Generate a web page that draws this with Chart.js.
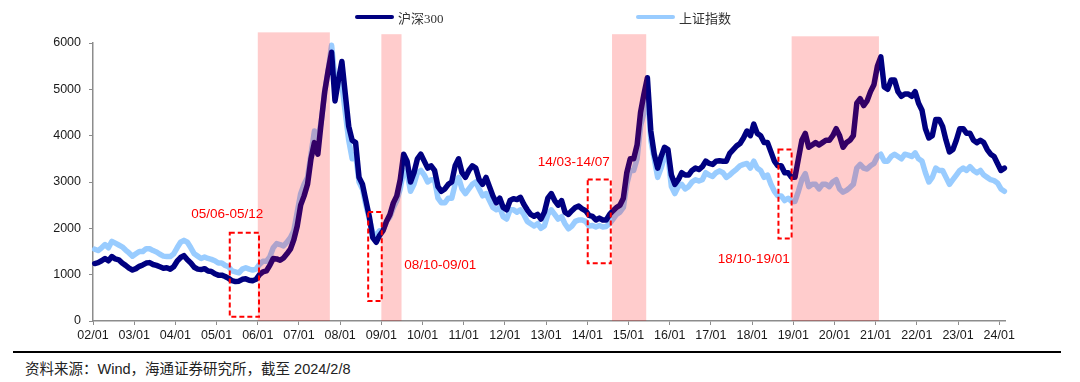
<!DOCTYPE html>
<html>
<head>
<meta charset="utf-8">
<script src="https://cdn.jsdelivr.net/npm/chart.js@4.4.0/dist/chart.umd.min.js"></script>
<style>
  html, body { margin: 0; padding: 0; background: #fff; }
  #wrap { position: relative; width: 1080px; height: 382px; overflow: hidden; }
  #chartBox { position: absolute; left: 0; top: 0; width: 1080px; height: 345px; }
  .legend { position: absolute; top: 8px; height: 18px; display: flex; align-items: center;
            font: 13px "Liberation Serif", "Noto Sans CJK SC", serif; color: #333; white-space: nowrap; }
  .legend i { display: inline-block; width: 39px; height: 4px; border-radius: 2px; margin-right: 4px; }
  #rule { position: absolute; left: 13px; width: 1048px; top: 351px; height: 2px; background: #000; }
  #source { position: absolute; left: 25px; top: 357px; font: 14.5px "Liberation Sans", "Noto Sans CJK SC", sans-serif; color: #222; white-space: nowrap; }
</style>
</head>
<body>
<div id="wrap">
  <div id="chartBox"><canvas id="indexChart" width="1080" height="345"></canvas></div>
  <div class="legend" style="left:355px"><i style="background:#000080"></i>沪深300</div>
  <div class="legend" style="left:636px"><i style="background:#99ccff"></i>上证指数</div>
  <div id="rule"></div>
  <div id="source">资料来源：Wind，海通证券研究所，截至 2024/2/8</div>
</div>
<script>
// monthly values, Jan 2002 .. Feb 2024 (one row per year)
const startYear = 2002;

const hs300 = [
  1240,1260,1300,1350,1300,1390,1340,1320,1250,1200,1140,1100, // 2002
  1130,1180,1210,1250,1260,1220,1200,1170,1140,1150,1120,1170, // 2003
  1290,1370,1410,1320,1250,1160,1120,1110,1130,1080,1070,1020, // 2004
  990,990,960,920,870,850,860,900,910,880,870,900,             // 2005
  1000,1060,1080,1200,1350,1340,1310,1360,1450,1550,1750,2050, // 2006
  2500,2700,2950,3500,3850,3600,4300,4950,5400,5800,4750,5200, // 2007
  5600,4900,4200,3900,3850,3100,2950,2600,2250,1800,1700,1850, // 2008
  1950,2150,2300,2550,2700,3050,3600,3450,3000,3200,3500,3600, // 2009
  3450,3300,3350,3250,2900,2800,2850,2950,3000,3350,3500,3200, // 2010
  3100,3250,3350,3300,3050,2950,3100,2900,2700,2550,2650,2450, // 2011
  2400,2600,2640,2620,2670,2520,2400,2300,2260,2300,2200,2350, // 2012
  2650,2750,2600,2500,2600,2350,2300,2380,2450,2480,2420,2380, // 2013
  2280,2260,2180,2220,2180,2180,2300,2380,2450,2500,2650,3200, // 2014
  3500,3500,3800,4500,4900,5250,4100,3600,3300,3550,3750,3700, // 2015
  3150,2950,3050,3200,3150,3150,3250,3300,3270,3330,3450,3400, // 2016
  3380,3450,3460,3450,3450,3620,3700,3780,3830,3950,4100,4000, // 2017
  4250,4050,4000,3850,3850,3650,3450,3350,3350,3200,3200,3100, // 2018
  3100,3500,3900,4050,3750,3800,3850,3800,3850,3900,3900,4000, // 2019
  4150,4000,3750,3850,3900,4000,4700,4800,4650,4750,4950,5100, // 2020
  5500,5700,5050,5000,5200,5200,4950,4850,4900,4900,4850,4950, // 2021
  4700,4550,4150,3950,4000,4350,4350,4200,3900,3650,3700,3900, // 2022
  4150,4150,4050,4050,3900,3850,3900,3850,3700,3600,3550,3400, // 2023
  3250,3300                                                    // 2024
];

const shIndex = [
  1550,1520,1580,1650,1580,1720,1680,1640,1600,1530,1470,1400, // 2002
  1450,1500,1500,1560,1560,1520,1490,1440,1400,1390,1390,1450, // 2003
  1580,1700,1740,1700,1580,1450,1400,1350,1380,1350,1330,1300, // 2004
  1250,1250,1200,1170,1080,1060,1040,1120,1150,1120,1100,1120, // 2005
  1220,1290,1290,1380,1580,1670,1650,1620,1700,1800,1950,2350, // 2006
  2750,2950,3100,3600,4100,3950,4300,4950,5400,5950,5200,5100, // 2007
  5100,4500,3900,3500,3600,3000,2850,2500,2200,1900,1850,1950, // 2008
  1950,2150,2250,2450,2600,2850,3250,3200,2800,2950,3200,3250, // 2009
  3150,3000,3050,3050,2650,2550,2550,2650,2650,2950,3100,2850, // 2010
  2750,2850,2950,3000,2850,2700,2750,2600,2450,2400,2450,2250, // 2011
  2200,2400,2400,2350,2400,2300,2150,2100,2050,2100,2000,2050, // 2012
  2300,2400,2300,2200,2250,2100,1990,2050,2150,2180,2180,2150, // 2013
  2050,2060,2030,2060,2030,2040,2100,2200,2300,2350,2450,2950, // 2014
  3250,3250,3500,4200,4500,5000,3900,3500,3100,3300,3550,3550, // 2015
  2900,2750,2900,2950,2850,2900,3000,3050,3020,3050,3200,3150, // 2016
  3120,3200,3240,3200,3100,3150,3220,3280,3350,3380,3400,3300, // 2017
  3450,3300,3250,3100,3150,2950,2800,2700,2700,2600,2650,2580, // 2018
  2580,2800,3050,3180,2900,2950,2950,2850,2950,2950,2900,3000, // 2019
  3050,2850,2780,2820,2880,2950,3300,3380,3300,3280,3350,3400, // 2020
  3550,3600,3450,3450,3550,3600,3550,3500,3600,3580,3550,3630, // 2021
  3500,3450,3200,3000,3100,3300,3250,3250,3100,2950,3050,3150, // 2022
  3250,3300,3250,3330,3250,3200,3250,3150,3100,3050,3030,2980, // 2023
  2850,2800                                                    // 2024
];

// x axis tick labels, one per January
const tickYears = [];
for (let y = 2002; y <= 2024; y++) tickYears.push(y);
const tickLabel = v => String(v % 100).padStart(2, '0') + '/01';

// shaded periods (decimal years) and dashed boxes with their labels
const shadedPeriods = [
  { from: 2006.0,  to: 2007.75, top: 6230 },
  { from: 2009.0,  to: 2009.49, top: 6190 },
  { from: 2014.6,  to: 2015.43, top: 6190 },
  { from: 2018.96, to: 2021.08, top: 6145 }
];
const dashedBoxes = [
  { from: 2005.32, to: 2006.03, low: 90,   high: 1905, label: '05/06-05/12', lx: 2005.26, ly: 2300 },
  { from: 2008.68, to: 2009.01, low: 430,  high: 2355, label: '08/10-09/01', lx: 2010.43, ly: 1200 },
  { from: 2014.01, to: 2014.57, low: 1245, high: 3055, label: '14/03-14/07', lx: 2013.67, ly: 3420 },
  { from: 2018.64, to: 2018.96, low: 1780, high: 3700, label: '18/10-19/01', lx: 2018.04, ly: 1325 }
];

const toPoints = arr => arr.map((v, i) => ({ x: startYear + (i + 0.5) / 12, y: v }));

const overlayPlugin = {
    id: 'overlays',
    afterDatasetsDraw(chart) {
        const ctx = chart.ctx;
        const xs = chart.scales.x, ys = chart.scales.y;
        ctx.save();
        ctx.fillStyle = 'rgba(255, 0, 0, 0.2)';
        shadedPeriods.forEach(p => {
            const x0 = xs.getPixelForValue(p.from), x1 = xs.getPixelForValue(p.to);
            const y0 = ys.getPixelForValue(p.top), y1 = ys.getPixelForValue(0);
            ctx.fillRect(x0, y0, x1 - x0, y1 - y0);
        });
        ctx.strokeStyle = '#ff0000';
        ctx.lineWidth = 2;
        ctx.setLineDash([5, 3]);
        ctx.fillStyle = '#ff0000';
        ctx.font = '13.5px "Liberation Sans", Arial, sans-serif';
        ctx.textAlign = 'center';
        ctx.textBaseline = 'middle';
        dashedBoxes.forEach(b => {
            const x0 = xs.getPixelForValue(b.from), x1 = xs.getPixelForValue(b.to);
            const y0 = ys.getPixelForValue(b.high), y1 = ys.getPixelForValue(b.low);
            ctx.strokeRect(x0, y0, x1 - x0, y1 - y0);
            ctx.fillText(b.label, xs.getPixelForValue(b.lx), ys.getPixelForValue(b.ly));
        });
        ctx.restore();
    }
};

const axisFont = { family: '"Liberation Sans", Arial, sans-serif', size: 12.5 };

new Chart(document.getElementById('indexChart').getContext('2d'), {
    type: 'line',
    data: {
        datasets: [{
            label: '沪深300',
            data: toPoints(hs300),
            borderColor: '#000080',
            borderWidth: 5.5,
            pointRadius: 0,
            borderJoinStyle: 'round',
            borderCapStyle: 'round',
            clip: 8
        }, {
            label: '上证指数',
            data: toPoints(shIndex),
            borderColor: '#99ccff',
            borderWidth: 5.5,
            pointRadius: 0,
            borderJoinStyle: 'round',
            borderCapStyle: 'round',
            clip: 8
        }]
    },
    options: {
        responsive: false,
        animation: false,
        devicePixelRatio: 1,
        layout: { padding: { top: 43, right: 75, bottom: 0, left: 0 } },
        plugins: { legend: { display: false }, tooltip: { enabled: false } },
        scales: {
            x: {
                type: 'linear',
                min: 2002,
                max: 2024.14,
                afterBuildTicks: s => { s.ticks = tickYears.map(v => ({ value: v })); },
                afterFit: s => { s.height = 24; },
                grid: { drawOnChartArea: false, drawTicks: true, tickLength: 4, color: '#8c8c8c' },
                border: { color: '#8c8c8c', width: 1.5 },
                ticks: { color: '#1a1a1a', font: axisFont, padding: 3, maxRotation: 0, autoSkip: false, callback: v => tickLabel(v) }
            },
            y: {
                min: 0,
                max: 6000,
                afterFit: s => { s.width = 93; },
                grid: { drawOnChartArea: false, drawTicks: true, tickLength: 4, color: '#8c8c8c' },
                border: { color: '#8c8c8c', width: 1.5 },
                ticks: { stepSize: 1000, color: '#1a1a1a', font: axisFont, padding: 8, callback: v => String(v) }
            }
        }
    },
    plugins: [overlayPlugin]
});
</script>
</body>
</html>
